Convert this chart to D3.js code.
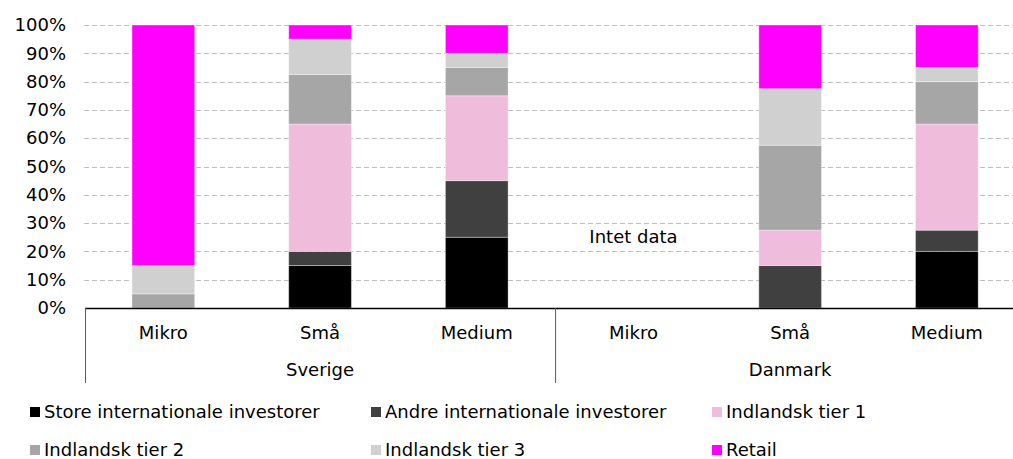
<!DOCTYPE html>
<html>
<head>
<meta charset="utf-8">
<script src="https://cdn.jsdelivr.net/npm/d3@7"></script>
<style>
  body { margin: 0; background: #fff; }
  svg text { font-family: "DejaVu Sans", Verdana, sans-serif; fill: #000; }
</style>
</head>
<body>
<div id="chart"></div>
<script>
// categories (country / size)
var countries = ["Sverige", "Danmark"];
var sizes = ["Mikro", "Små", "Medium"];
var seriesNames = ["Store internationale investorer", "Andre internationale investorer",
    "Indlandsk tier 1", "Indlandsk tier 2", "Indlandsk tier 3", "Retail"];
var seriesColors = ["#000000", "#404040", "#f0bcdc", "#a6a6a6", "#d0d0d0", "#ff00ff"];

// values in percent, order: Sverige Mikro, Små, Medium, Danmark Mikro, Små, Medium
var store  = [0, 15, 25, 0, 0, 20];
var andre  = [0, 5, 20, 0, 15, 7.5];
var tier1  = [0, 45, 30, 0, 12.5, 37.5];
var tier2  = [5, 17.5, 10, 0, 30, 15];
var tier3  = [10, 12.5, 5, 0, 20, 5];
var retail = [85, 5, 10, 0, 22.5, 15];
var yTicks = [0, 10, 20, 30, 40, 50, 60, 70, 80, 90, 100];
var noDataLabel = "Intet data";

var w = 1013, h = 459;
var plotLeft = 85, plotTop = 25, plotBottom = 308;
var bandW = 156.7;
var fs = "18px";

var svg = d3.select("#chart").append("svg")
    .attr("width", w)
    .attr("height", h);

var keys = [];
countries.forEach(function(c) {
    sizes.forEach(function(s) { keys.push(c + "|" + s); });
});

var rows = keys.map(function(k, i) {
    return {key: k, s0: store[i], s1: andre[i], s2: tier1[i], s3: tier2[i], s4: tier3[i], s5: retail[i]};
});

var xScale = d3.scaleBand()
    .domain(keys)
    .range([plotLeft, plotLeft + bandW * keys.length])
    .paddingInner(0.6)
    .paddingOuter(0.3);

var yScale = d3.scaleLinear()
    .domain([0, 100])
    .range([plotBottom, plotTop]);

// gridlines
svg.append("g")
    .selectAll("line")
    .data(yTicks.slice(1))
    .join("line")
    .attr("x1", plotLeft - 1)
    .attr("x2", w)
    .attr("y1", function(d) { return Math.round(yScale(d)) + 0.5; })
    .attr("y2", function(d) { return Math.round(yScale(d)) + 0.5; })
    .style("stroke", "#bfbfbf")
    .style("stroke-width", 1)
    .style("stroke-dasharray", "5,3");

// y axis labels
var yAxis = d3.axisLeft(yScale)
    .tickValues(yTicks)
    .tickSize(0)
    .tickPadding(0)
    .tickFormat(function(d) { return d + "%"; });

var yg = svg.append("g")
    .attr("transform", "translate(66,0)")
    .call(yAxis);
yg.select(".domain").remove();
yg.selectAll("text")
    .style("font-size", fs)
    .style("font-family", "'DejaVu Sans', Verdana, sans-serif")
    .style("fill", "#000");

// stacked bars
var stack = d3.stack().keys(["s0", "s1", "s2", "s3", "s4", "s5"]);
var layers = stack(rows);

svg.append("g")
    .selectAll("g")
    .data(layers)
    .join("g")
    .style("fill", function(d, i) { return seriesColors[i]; })
    .selectAll("rect")
    .data(function(d) { return d.filter(function(p) { return p[1] - p[0] > 0; }); })
    .join("rect")
    .attr("x", function(d) { return xScale(d.data.key); })
    .attr("width", xScale.bandwidth())
    .attr("y", function(d) { return yScale(d[1]); })
    .attr("height", function(d) { return yScale(d[0]) - yScale(d[1]); })
    .style("stroke", "#ffffff")
    .style("stroke-opacity", 0.35)
    .style("stroke-width", 1);

// x axis line and group separators
svg.append("line")
    .attr("x1", plotLeft).attr("x2", w)
    .attr("y1", plotBottom + 0.5).attr("y2", plotBottom + 0.5)
    .style("stroke", "#000").style("stroke-width", 1.3);

var groupW = bandW * sizes.length;
countries.forEach(function(c, gi) {
    var gx = plotLeft + gi * groupW;
    svg.append("line")
        .attr("x1", gx + 0.5).attr("x2", gx + 0.5)
        .attr("y1", plotBottom).attr("y2", 383)
        .style("stroke", "#595959").style("stroke-width", 1);
    svg.append("text")
        .attr("x", gx + groupW / 2)
        .attr("y", 376)
        .attr("text-anchor", "middle")
        .style("font-size", fs)
        .text(c);
});

// size labels
svg.append("g")
    .selectAll("text")
    .data(keys)
    .join("text")
    .attr("x", function(d) { return xScale(d) + xScale.bandwidth() / 2; })
    .attr("y", 339)
    .attr("text-anchor", "middle")
    .style("font-size", fs)
    .text(function(d) { return d.split("|")[1]; });

// "Intet data" for Danmark Mikro
svg.append("text")
    .attr("x", xScale("Danmark|Mikro") + xScale.bandwidth() / 2)
    .attr("y", 243)
    .attr("text-anchor", "middle")
    .style("font-size", fs)
    .text(noDataLabel);

// legend
var legX = [30, 371, 712];
var legY = [413, 451];
var legend = svg.append("g")
    .selectAll("g")
    .data(seriesNames)
    .join("g")
    .attr("transform", function(d, i) {
        return "translate(" + legX[i % 3] + "," + legY[Math.floor(i / 3)] + ")";
    });
legend.append("rect")
    .attr("x", 0).attr("y", -6)
    .attr("width", 10).attr("height", 10)
    .style("fill", function(d, i) { return seriesColors[i]; });
legend.append("text")
    .attr("x", 14)
    .attr("y", 5)
    .style("font-size", fs)
    .text(function(d) { return d; });
</script>
</body>
</html>
